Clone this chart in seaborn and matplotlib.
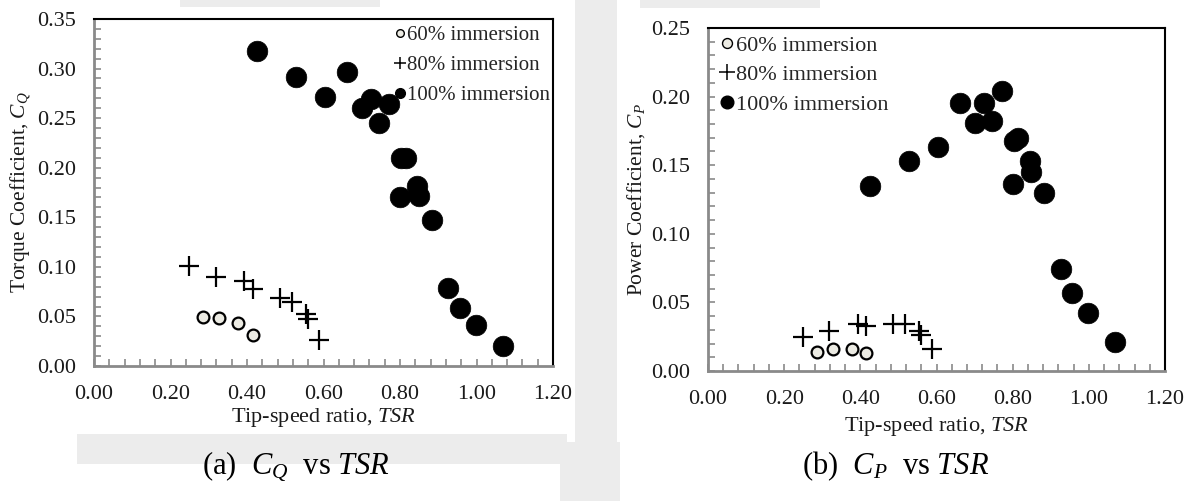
import numpy as np
import pandas as pd
import matplotlib
matplotlib.use("Agg")
import matplotlib.pyplot as plt
from matplotlib.lines import Line2D
from matplotlib.patches import Rectangle
from matplotlib.ticker import MultipleLocator, FormatStrFormatter
import seaborn as sns

# ---- measured data -------------------------------------------------------
tsr_60 = [0.286, 0.327, 0.377, 0.416]
cq_60 = [0.049, 0.048, 0.043, 0.031]
cp_60 = [0.014, 0.016, 0.016, 0.013]

tsr_80 = [0.249, 0.318, 0.393, 0.416, 0.486, 0.518, 0.553, 0.559, 0.588]
cq_80 = [0.101, 0.090, 0.086, 0.078, 0.069, 0.065, 0.052, 0.047, 0.026]
cp_80 = [0.025, 0.029, 0.034, 0.033, 0.034, 0.034, 0.029, 0.026, 0.016]

tsr_100 = [0.425, 0.527, 0.604, 0.661, 0.700, 0.724, 0.745, 0.771, 0.803,
           0.815, 0.800, 0.845, 0.849, 0.883, 0.926, 0.956, 0.998, 1.068]
cq_100 = [0.318, 0.292, 0.271, 0.297, 0.260, 0.269, 0.245, 0.264, 0.210,
          0.210, 0.170, 0.182, 0.171, 0.147, 0.079, 0.058, 0.041, 0.020]
cp_100 = [0.135, 0.153, 0.163, 0.195, 0.181, 0.195, 0.182, 0.204, 0.168,
          0.170, 0.136, 0.153, 0.145, 0.130, 0.074, 0.057, 0.042, 0.021]

labels = ["60% immersion", "80% immersion", "100% immersion"]
x_ticks = [0.0, 0.2, 0.4, 0.6, 0.8, 1.0, 1.2]

df = pd.concat([
    pd.DataFrame({"TSR": tsr_60, "CQ": cq_60, "CP": cp_60, "case": labels[0]}),
    pd.DataFrame({"TSR": tsr_80, "CQ": cq_80, "CP": cp_80, "case": labels[1]}),
    pd.DataFrame({"TSR": tsr_100, "CQ": cq_100, "CP": cp_100, "case": labels[2]}),
], ignore_index=True)

# ---- style ---------------------------------------------------------------
sns.set_theme(style="white")
plt.rcParams["font.family"] = ["Liberation Serif", "DejaVu Serif"]
plt.rcParams["mathtext.fontset"] = "custom"
plt.rcParams["mathtext.rm"] = "Liberation Serif"
plt.rcParams["mathtext.it"] = "Liberation Serif:italic"
plt.rcParams["mathtext.bf"] = "Liberation Serif:bold"

GREY_SPINE = "#8a8a8a"
PALE = "#ecebe3"
TXT = "#1a1a1a"
WASH = "#ececec"

fig = plt.figure(figsize=(11.92, 5.01), dpi=100, facecolor="white")

# faint grey wash around the two chart boxes
bg = fig.add_axes([0, 0, 1, 1], zorder=-10)
bg.set_xlim(0, 1192)
bg.set_ylim(501, 0)
bg.axis("off")
for (x, y, w, h) in [(180, 0, 200, 7), (640, 0, 180, 8), (575, 0, 42, 501),
                     (77, 434, 490, 30), (560, 442, 60, 59)]:
    bg.add_patch(Rectangle((x, y), w, h, color=WASH, lw=0))

ax1 = fig.add_axes([94 / 1192, 1 - 366 / 501, (553 - 94) / 1192, (366 - 19) / 501])
ax2 = fig.add_axes([708 / 1192, 1 - 371 / 501, (1165 - 708) / 1192, (371 - 28) / 501])


def draw(ax, ycol):
    sub = df[df["case"] == labels[0]]
    sns.scatterplot(data=sub, x="TSR", y=ycol, ax=ax, marker="o", s=72,
                    color=PALE, edgecolor="black", linewidth=1.6, zorder=3)
    sub = df[df["case"] == labels[1]]
    sns.scatterplot(data=sub, x="TSR", y=ycol, ax=ax, marker="+", s=210,
                    color="black", linewidth=1.6, zorder=3)
    sub = df[df["case"] == labels[2]]
    sns.scatterplot(data=sub, x="TSR", y=ycol, ax=ax, marker="o", s=220,
                    color="black", edgecolor="black", linewidth=0.5, zorder=3)


draw(ax1, "CQ")
draw(ax2, "CP")


def style_axes(ax, ymax, ystep, ylabel, xpad):
    ax.set_xlim(0, 1.2)
    ax.set_ylim(0, ymax)
    ax.set_xticks(x_ticks)
    ax.xaxis.set_major_formatter(FormatStrFormatter("%.2f"))
    ax.xaxis.set_minor_locator(MultipleLocator(0.04))
    ax.yaxis.set_major_locator(MultipleLocator(ystep))
    ax.yaxis.set_major_formatter(FormatStrFormatter("%.2f"))
    ax.yaxis.set_minor_locator(MultipleLocator(0.01))
    ax.tick_params(which="both", direction="in", length=5, width=1.2,
                   color=GREY_SPINE, labelsize=16, labelcolor=TXT,
                   bottom=True, left=True, top=False, right=False)
    ax.tick_params(axis="x", which="major", pad=14)
    ax.tick_params(axis="y", which="major", pad=13)
    for side in ("left", "bottom"):
        ax.spines[side].set_color(GREY_SPINE)
        ax.spines[side].set_linewidth(2.0)
    for side in ("top", "right"):
        ax.spines[side].set_color("black")
        ax.spines[side].set_linewidth(1.5)
    ax.set_xlabel("Tip-speed ratio, $\\mathit{TSR}$", fontsize=16, color=TXT,
                  labelpad=xpad)
    ax.set_ylabel(ylabel, fontsize=15.5, color=TXT, labelpad=3)
    ax.set_facecolor("white")


style_axes(ax1, 0.35, 0.05, "Torque Coefficient, $C_Q$", 1)
style_axes(ax2, 0.25, 0.05, "Power Coefficient, $C_P$", 4)


def legend_handles(scale):
    return [
        Line2D([], [], ls="none", marker="o", ms=5.5 * scale, mfc=PALE,
               mec="black", mew=1.0, label=labels[0]),
        Line2D([], [], ls="none", marker="+", ms=9 * scale, color="black",
               mew=1.1, label=labels[1]),
        Line2D([], [], ls="none", marker="o", ms=7 * scale, mfc="black",
               mec="black", label=labels[2]),
    ]


ax1.legend(handles=legend_handles(1.0), loc="upper right", frameon=False,
           fontsize=15, handlelength=0.5, handletextpad=0.1,
           labelspacing=0.5, borderaxespad=0.0, bbox_to_anchor=(1.012, 1.006))
ax2.legend(handles=legend_handles(1.3), loc="upper left", frameon=False,
           fontsize=16, handlelength=0.7, handletextpad=0.05,
           labelspacing=0.4, borderaxespad=0.0, bbox_to_anchor=(0.005, 1.005))

fig.text(296 / 1192, 1 - 466 / 501, "(a)  $C_Q$  vs $\\mathit{TSR}$",
         ha="center", va="center", fontsize=22, color="black")
fig.text(896 / 1192, 1 - 466 / 501, "(b)  $C_P$  vs $\\mathit{TSR}$",
         ha="center", va="center", fontsize=22, color="black")

fig.savefig("out.png", dpi=100, facecolor=fig.get_facecolor())
